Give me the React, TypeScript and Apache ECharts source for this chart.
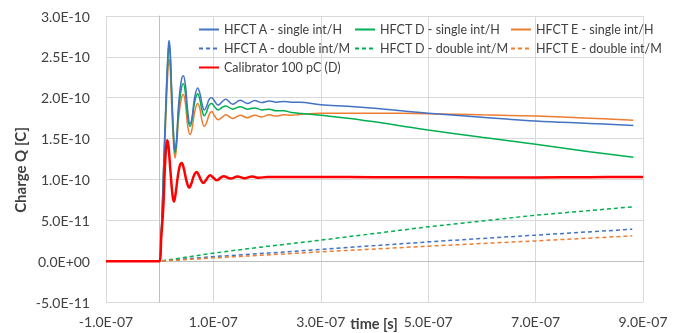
import React, { useEffect, useRef } from "react";
import * as echarts from "echarts";

type Pt = [number, number];

// time in ns, charge in pC
const hfctASingle: Pt[] = [
  [-100, 0], [-2, 0], [0, 0], [3, 35], [7, 110], [10, 165], [13, 220], [15.5, 255], [17.3, 270],
  [19.5, 258], [22, 215], [25.5, 160], [28.5, 135], [31.5, 150], [35, 190], [40, 220], [44, 227],
  [48, 215], [52, 185], [56.4, 168], [60, 175], [65, 200], [70.8, 212], [75, 205], [79, 192],
  [83, 185], [87, 189], [92, 198], [96.8, 200], [102, 196], [109, 191], [116, 195], [123, 198],
  [136, 192], [150, 197], [163, 193], [177, 196.5], [190, 194], [204, 196], [217, 194.5],
  [231, 195.5], [245, 194.5], [260, 194.5], [300, 191.5], [350, 189.5], [400, 187], [450, 184],
  [500, 181], [600, 176], [700, 171.5], [800, 168.5], [882, 166],
];
const hfctDSingle: Pt[] = [
  [-100, 0], [-2, 0], [0, 0], [3, 35], [7, 108], [10, 162], [13, 215], [15.5, 250], [17.3, 265],
  [19.5, 252], [22, 210], [25.5, 155], [28.5, 132], [31.5, 147], [35, 183], [40, 210], [44, 217],
  [48, 205], [52, 177], [56.4, 165], [60, 172], [65, 194], [70.8, 205], [75, 197], [79, 184],
  [83, 178], [87, 182], [92, 191], [96.8, 193], [102, 189], [109, 185], [116, 188], [123, 190],
  [136, 186], [150, 189], [163, 186], [177, 187.5], [190, 185], [204, 186], [217, 184],
  [231, 184], [245, 182], [260, 181], [300, 178.5], [350, 175], [400, 170.5], [450, 165.5],
  [500, 160.4], [600, 151.5], [700, 143], [800, 134], [882, 127],
];
const hfctESingle: Pt[] = [
  [-100, 0], [-2, 0], [0, 0], [3, 30], [7, 100], [10, 150], [13, 200], [15.5, 235], [17.3, 247],
  [19.5, 236], [22, 195], [25.5, 147], [28.5, 126], [31.5, 140], [35, 173], [40, 198], [44, 204],
  [48, 192], [52, 166], [56.4, 155], [60, 161], [65, 182], [70.8, 193], [75, 186], [79, 171],
  [83, 165], [87, 169], [92, 179], [96.8, 183], [102, 178], [109, 173], [116, 176], [123, 179],
  [136, 174.5], [150, 178.5], [163, 175.5], [177, 178.5], [190, 176.5], [204, 179], [217, 177.5],
  [231, 179], [245, 178.5], [260, 179.5], [300, 181], [400, 181], [500, 180.5], [600, 179],
  [700, 177.5], [800, 175], [882, 172.5],
];
const hfctADouble: Pt[] = [
  [-100, 0], [0, 0], [100, 5.5], [170, 8.5], [300, 14.3], [500, 23.6], [700, 31.8], [880, 39.1],
];
const hfctDDouble: Pt[] = [
  [-100, 0], [0, 0], [100, 9.8], [180, 16.5], [300, 25.7], [500, 42], [700, 56.2], [880, 66.4],
];
const hfctEDouble: Pt[] = [
  [-100, 0], [0, 0], [100, 4], [170, 6.5], [300, 11.4], [500, 18.3], [700, 24.8], [880, 30.9],
];
const calibrator: Pt[] = [
  [-100, 0], [-2, 0], [0, 0], [3, 30], [6.7, 66], [10, 120], [12.5, 142], [14.2, 148], [16.5, 140],
  [20, 110], [24, 80], [26.6, 73], [29.5, 82], [34, 105], [38, 118], [41, 120], [45, 113], [50, 98],
  [55, 90], [59, 95], [64, 105], [69, 109], [73, 105], [77, 99], [81, 95.7], [85, 98], [90, 103],
  [94, 105], [100, 102], [106, 99], [119, 104], [132, 101], [145, 103.5], [158, 101.5],
  [172, 103.5], [185, 102], [200, 103], [250, 103], [300, 103], [400, 102.8], [500, 102.7],
  [600, 102.5], [700, 102.5], [800, 102.8], [900, 103],
];

const X_MIN = -100, X_MAX = 900, X_STEP = 200; // ns
const Y_MIN = -50, Y_MAX = 300, Y_STEP = 50; // pC

const NAMES = {
  aS: "HFCT A - single int/H",
  dS: "HFCT D - single int/H",
  eS: "HFCT E - single int/H",
  aD: "HFCT A - double int/M",
  dD: "HFCT D - double int/M",
  eD: "HFCT E - double int/M",
  cal: "Calibrator 100 pC (D)",
};

const BLUE = "#4472C4";
const GREEN = "#00B050";
const ORANGE = "#ED7D31";
const RED = "#FF0000";
const FONT = "Lato";
const TXT = "#404040";

function fmtExp(value: number): string {
  if (Math.abs(value) < 1e-30) return "0.0E+00";
  let e = Math.floor(Math.log10(Math.abs(value)));
  let m = value / Math.pow(10, e);
  if (Math.abs(m) >= 9.95) { m /= 10; e += 1; }
  if (Math.abs(m) < 0.995) { m *= 10; e -= 1; }
  const sign = e < 0 ? "-" : "+";
  return `${m.toFixed(1)}E${sign}${String(Math.abs(e)).padStart(2, "0")}`;
}

function lineSeries(name: string, data: Pt[], color: string, width: number, dashed: boolean, smooth: number | boolean) {
  return {
    name,
    type: "line",
    data,
    symbol: "none",
    showSymbol: false,
    smooth,
    xAxisIndex: 0,
    yAxisIndex: 0,
    lineStyle: { color, width, type: dashed ? [4, 3] : "solid" },
    itemStyle: { color },
    emphasis: { disabled: true },
  };
}

export default function App() {
  const ref = useRef<HTMLDivElement>(null);
  useEffect(() => {
    if (!ref.current) return;
    const chart = echarts.init(ref.current, undefined, { renderer: "svg" });
    const legendText = { fontFamily: FONT, fontSize: 12.5, color: TXT };
    const legendCommon = {
      orient: "vertical",
      top: 23,
      padding: 0,
      itemGap: 6,
      itemWidth: 20,
      itemHeight: 10,
      textStyle: legendText,
      itemStyle: { opacity: 0, borderWidth: 0 },
      selectedMode: false,
    };
    chart.setOption({
      animation: false,
      grid: { left: 106, right: 31, top: 16, bottom: 31, outerBoundsMode: "none" },
      xAxis: [
        {
          type: "value",
          min: X_MIN,
          max: X_MAX,
          interval: X_STEP,
          axisLine: { show: false, onZero: false },
          axisTick: { show: false },
          splitLine: { show: true, lineStyle: { color: "#D9D9D9", width: 1 } },
          axisLabel: {
            margin: 12,
            fontFamily: FONT,
            fontSize: 14,
            color: TXT,
            formatter: (v: number) => fmtExp(v * 1e-9),
          },
        },
        {
          type: "value",
          min: X_MIN,
          max: X_MAX,
          position: "bottom",
          axisLine: { show: true, onZero: true, lineStyle: { color: "#BFBFBF", width: 1 } },
          axisTick: { show: false },
          axisLabel: { show: false },
          splitLine: { show: false },
        },
      ],
      yAxis: [
        {
          type: "value",
          min: Y_MIN,
          max: Y_MAX,
          interval: Y_STEP,
          axisLine: { show: false, onZero: false },
          axisTick: { show: false },
          splitLine: { show: true, lineStyle: { color: "#D9D9D9", width: 1 } },
          axisLabel: {
            margin: 16,
            fontFamily: FONT,
            fontSize: 14,
            color: TXT,
            formatter: (v: number) => fmtExp(v * 1e-12),
          },
        },
        {
          type: "value",
          min: Y_MIN,
          max: Y_MAX,
          position: "left",
          axisLine: { show: true, onZero: true, lineStyle: { color: "#BFBFBF", width: 1 } },
          axisTick: { show: false },
          axisLabel: { show: false },
          splitLine: { show: false },
        },
      ],
      legend: [
        { ...legendCommon, left: 198, data: [NAMES.aS, NAMES.aD, NAMES.cal] },
        { ...legendCommon, left: 354, data: [NAMES.dS, NAMES.dD] },
        { ...legendCommon, left: 510, data: [NAMES.eS, NAMES.eD] },
      ],
      graphic: [
        {
          type: "text",
          x: 20,
          y: 170,
          rotation: Math.PI / 2,
          style: {
            text: "Charge Q [C]",
            font: `bold 15px ${FONT}`,
            fill: TXT,
            textAlign: "center",
            textVerticalAlign: "middle",
          },
        },
        {
          type: "text",
          x: 374,
          y: 323,
          style: {
            text: "time [s]",
            font: `bold 14.5px ${FONT}`,
            fill: TXT,
            textAlign: "center",
            textVerticalAlign: "middle",
          },
        },
      ],
      series: [
        lineSeries(NAMES.aD, hfctADouble, BLUE, 1.5, true, false),
        lineSeries(NAMES.dD, hfctDDouble, GREEN, 1.5, true, false),
        lineSeries(NAMES.eD, hfctEDouble, ORANGE, 1.5, true, false),
        lineSeries(NAMES.eS, hfctESingle, ORANGE, 1.5, false, 0.4),
        lineSeries(NAMES.dS, hfctDSingle, GREEN, 1.5, false, 0.4),
        lineSeries(NAMES.aS, hfctASingle, BLUE, 1.5, false, 0.4),
        lineSeries(NAMES.cal, calibrator, RED, 2.5, false, 0.4),
      ],
    });
    return () => chart.dispose();
  }, []);
  return (
    <div
      ref={ref}
      style={{ position: "fixed", left: 0, top: 0, width: 674, height: 333 }}
    />
  );
}
